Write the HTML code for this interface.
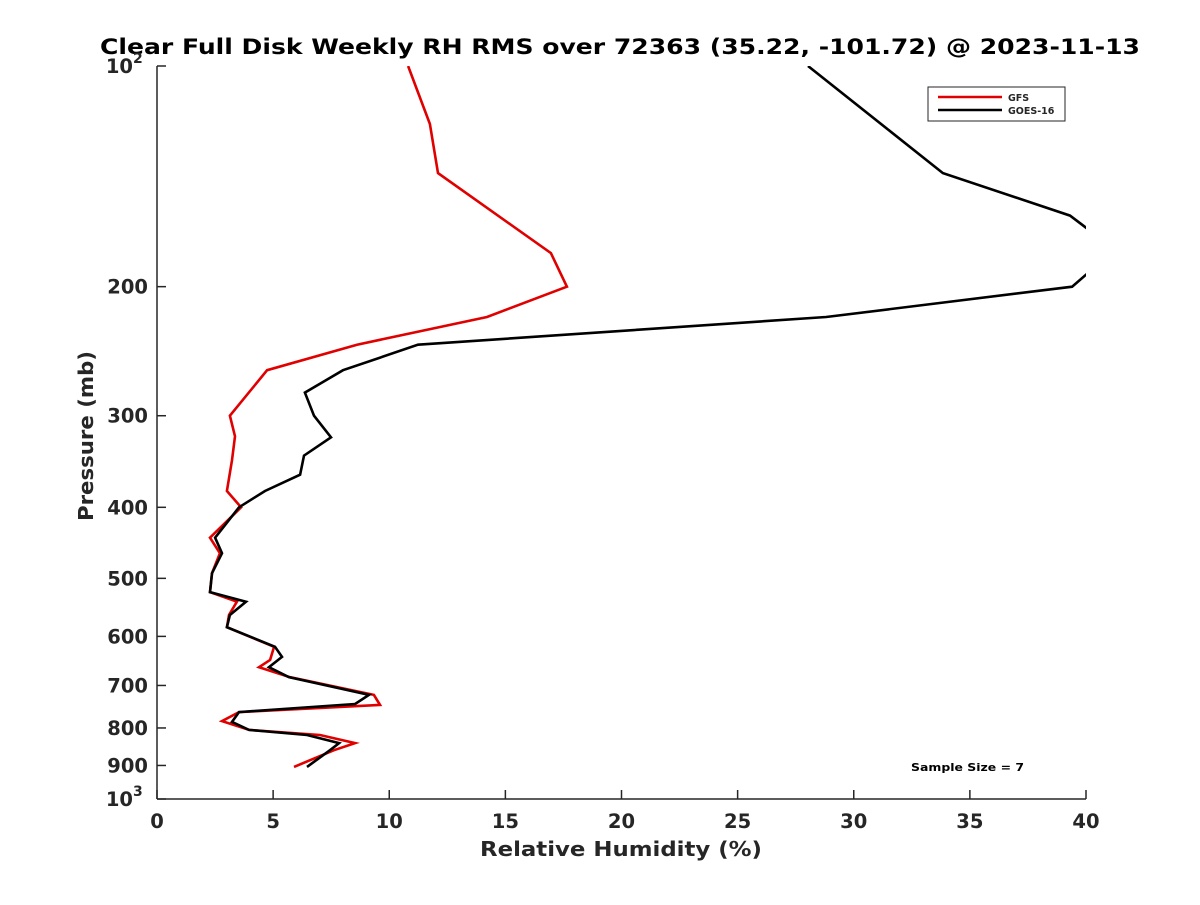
<!DOCTYPE html>
<html><head><meta charset="utf-8"><style>
body{margin:0;background:#fff;}
svg text{font-family:"DejaVu Sans","Liberation Sans",sans-serif;font-weight:bold;fill:#262626;}
</style></head><body>
<svg id="chart" width="1200" height="900" xmlns="http://www.w3.org/2000/svg">
<rect width="1200" height="900" fill="#fff"/>
<defs><clipPath id="clip"><rect x="157" y="66" width="929" height="733"/></clipPath></defs>
<text x="620" y="54" text-anchor="middle" font-size="21.5" style="fill:#000" textLength="1040" lengthAdjust="spacingAndGlyphs">Clear Full Disk Weekly RH RMS over 72363 (35.22, -101.72) @ 2023-11-13</text>
<g id="axes"></g>
<g id="series" clip-path="url(#clip)"></g>
<g>
<rect x="928" y="87" width="137" height="34" fill="#fff" stroke="#262626" stroke-width="1"/>
<line x1="938" y1="97" x2="1002" y2="97" stroke="#e00000" stroke-width="2.5"/>
<line x1="938" y1="110" x2="1002" y2="110" stroke="#000" stroke-width="2.5"/>
<text x="1008" y="101" font-size="9.5">GFS</text>
<text x="1008" y="114" font-size="9.5">GOES-16</text>
</g>
<text x="911" y="771" font-size="11" style="fill:#000" textLength="113" lengthAdjust="spacingAndGlyphs">Sample Size = 7</text>
<text x="621" y="856" text-anchor="middle" font-size="20.5" textLength="282" lengthAdjust="spacingAndGlyphs">Relative Humidity (%)</text>
<text x="93" y="436" text-anchor="middle" font-size="20.5" transform="rotate(-90 93 436)" textLength="170" lengthAdjust="spacingAndGlyphs">Pressure (mb)</text>
</svg>
<script>
const gfsP=[100,120,140,180,200,220,240,260,300,320,345,380,400,440,462,492,522,538,561,583,620,646,661,682,721,744,761,783,805,818,839,858,904];
const gfsRH=[10.81,11.75,12.10,16.96,17.65,14.21,8.61,4.74,3.14,3.36,3.23,3.01,3.62,2.28,2.71,2.37,2.28,3.44,3.10,3.01,5.04,4.87,4.39,5.73,9.34,9.60,3.53,2.80,3.96,7.02,8.53,7.62,5.90];
const goesP=[100,140,160,178,200,220,240,260,279,300,321,340,361,380,400,440,462,492,522,538,561,583,620,640,661,682,721,742,761,785,805,818,839,858,904];
const goesRH=[28.03,33.84,39.31,41.25,39.40,28.81,11.24,8.01,6.37,6.76,7.49,6.33,6.16,4.65,3.53,2.50,2.80,2.37,2.28,3.83,3.14,3.01,5.08,5.38,4.82,5.68,9.13,8.53,3.53,3.23,3.96,6.46,7.84,7.45,6.46];
const xTicks=[0,5,10,15,20,25,30,35,40];
const yTicks=[100,200,300,400,500,600,700,800,900,1000];
const yTickLabels=["10^2","200","300","400","500","600","700","800","900","10^3"];
const L=157,R=1086,T=66,B=799;
const xs=v=>L+(v-0)/40*(R-L);
const ys=p=>T+Math.log10(p/100)*(B-T);
const NS="http://www.w3.org/2000/svg";
const axes=document.getElementById('axes'),series=document.getElementById('series');
function mk(tag,attrs,parent){const e=document.createElementNS(NS,tag);for(const k in attrs)e.setAttribute(k,attrs[k]);parent.appendChild(e);return e;}
let e=mk('line',{x1:L,y1:T,x2:L,y2:B,stroke:'#262626','stroke-width':1.5},axes);


e=mk('line',{x1:L,y1:B,x2:R,y2:B,stroke:'#262626','stroke-width':1.5},axes);


xTicks.forEach(v=>{
 const x=xs(v);
 const t=mk('line',{x1:x,y1:B,x2:x,y2:B-9,stroke:'#262626','stroke-width':1.5},axes);
 
 
 const tx=mk('text',{x:x,y:B+29,'text-anchor':'middle','font-size':19.5},axes);
 tx.textContent=v;
 
 
});
yTicks.forEach((p,i)=>{
 const y=ys(p);
 const t=mk('line',{x1:L,y1:y,x2:L+9,y2:y,stroke:'#262626','stroke-width':1.5},axes);
 
 
 const lab=yTickLabels[i];
 const sup=lab.indexOf('^');
 const tx=mk('text',{x:sup>=0?L-24:L-9,y:y+7,'text-anchor':'end','font-size':19.5},axes);
 
 
 if(sup>=0){
  tx.textContent=lab.slice(0,sup);
  const s=mk('text',{x:L-24,y:y-3,'text-anchor':'start','font-size':14},axes);
  s.textContent=lab.slice(sup+1);
  
  
 } else tx.textContent=lab;
});
function line(P,V,color,name){
 const pts=P.map((p,i)=>xs(V[i]).toFixed(1)+','+ys(p).toFixed(1)).join(' ');
 const pl=mk('polyline',{points:pts,fill:'none',stroke:color,'stroke-width':2.6,'stroke-linejoin':'miter'},series);
 
 
}
line(gfsP,gfsRH,'#e00000','gfs-line');
line(goesP,goesRH,'#000000','goes16-line');
</script>
</body></html>
